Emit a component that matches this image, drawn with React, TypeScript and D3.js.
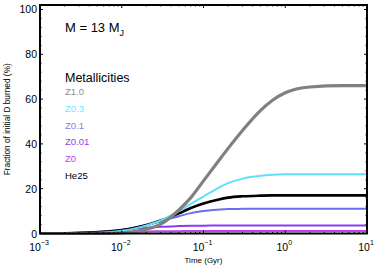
import * as d3 from 'd3';

// sample times (Gyr)
const times = [0.001, 0.002, 0.005, 0.01, 0.015, 0.02, 0.03, 0.05, 0.07, 0.1, 0.15, 0.2, 0.3, 0.5, 0.7, 1, 2, 5, 10];

const z10 = [0, 0, 0, 0.3, 1, 1.9, 4.2, 10.5, 16, 23.5, 32, 38, 46, 55, 59.5, 62.8, 65.4, 66, 66];
const z03 = [0, 0.05, 0.3, 1.2, 2.4, 3.6, 5.8, 10, 13.2, 16.5, 20.3, 22.5, 24.5, 25.8, 26.2, 26.4, 26.5, 26.5, 26.5];
const z01 = [0, 0.15, 0.6, 1.6, 2.8, 3.8, 5.4, 7.7, 9.1, 10, 10.6, 10.9, 11, 11.1, 11.1, 11.1, 11.1, 11.1, 11.1];
const z001 = [0, 0.2, 0.8, 1.6, 2.2, 2.6, 3, 3.3, 3.45, 3.5, 3.55, 3.6, 3.6, 3.6, 3.6, 3.6, 3.6, 3.6, 3.6];
const z0 = [0, 0.15, 0.4, 0.7, 0.8, 0.9, 1, 1.05, 1.1, 1.1, 1.1, 1.1, 1.1, 1.1, 1.1, 1.1, 1.1, 1.1, 1.1];
const he25 = [0, 0.1, 0.5, 1.5, 2.7, 3.8, 5.8, 9, 11.4, 13.4, 15.1, 16, 16.6, 16.9, 17, 17, 17, 17, 17];

const legendLabels = ['Z1.0', 'Z0.3', 'Z0.1', 'Z0.01', 'Z0', 'He25'];
const yTicks = [0, 20, 40, 60, 80, 100];
const xDecades = [-3, -2, -1, 0, 1];

const series = [
  { name: 'Z0', values: z0, color: '#c040f2', width: 2 },
  { name: 'Z0.01', values: z001, color: '#8a3cf0', width: 2 },
  { name: 'Z0.1', values: z01, color: '#6c6cf0', width: 2 },
  { name: 'He25', values: he25, color: '#000000', width: 2.6 },
  { name: 'Z0.3', values: z03, color: '#5ee0f8', width: 2 },
  { name: 'Z1.0', values: z10, color: '#808080', width: 3.2 },
];
const legendColors: Record<string, string> = {
  'Z1.0': '#8c8c8c',
  'Z0.3': '#6ee6ff',
  'Z0.1': '#7e7ef0',
  'Z0.01': '#9040e6',
  'Z0': '#c040f0',
  'He25': '#000000',
};

const W = 380;
const H = 266;
const left = 40;
const right = 367;
const top = 5;
const bottom = 233.5;
const font = 'Liberation Sans, Arial, sans-serif';

export default function App() {
  const x = d3.scaleLog().domain([1e-3, 10]).range([left, right]);
  const y = d3.scaleLinear().domain([0, 102]).range([bottom, top]);

  const line = d3
    .line<number>()
    .x((_, i) => x(times[i]))
    .y((d) => y(d))
    .curve(d3.curveMonotoneX);

  const minorX: number[] = [];
  for (let e = -3; e < 1; e++) {
    for (let m = 2; m <= 9; m++) minorX.push(m * Math.pow(10, e));
  }
  const minorY = d3.range(0, 101, 4).filter((v) => v % 20 !== 0);

  return (
    <svg width={W} height={H} style={{ position: 'absolute', left: 0, top: 0, background: '#fff' }} fontFamily={font}>
      <g>
        {series.map((s) => (
          <path key={s.name} d={line(s.values) || ''} fill="none" stroke={s.color} strokeWidth={s.width} />
        ))}
      </g>

      {/* ticks */}
      <g stroke="#000" strokeWidth={1}>
        {yTicks.map((v) => (
          <g key={'yt' + v}>
            <line x1={left} x2={left + 3} y1={y(v)} y2={y(v)} />
            <line x1={right} x2={right - 3} y1={y(v)} y2={y(v)} />
          </g>
        ))}
        {minorY.map((v) => (
          <g key={'ym' + v}>
            <line x1={left} x2={left + 1.5} y1={y(v)} y2={y(v)} />
            <line x1={right} x2={right - 1.5} y1={y(v)} y2={y(v)} />
          </g>
        ))}
        {xDecades.map((e) => (
          <g key={'xt' + e}>
            <line x1={x(Math.pow(10, e))} x2={x(Math.pow(10, e))} y1={bottom} y2={bottom - 3} />
            <line x1={x(Math.pow(10, e))} x2={x(Math.pow(10, e))} y1={top} y2={top + 3} />
          </g>
        ))}
        {minorX.map((v, i) => (
          <g key={'xm' + i}>
            <line x1={x(v)} x2={x(v)} y1={bottom} y2={bottom - 1.5} />
            <line x1={x(v)} x2={x(v)} y1={top} y2={top + 1.5} />
          </g>
        ))}
      </g>

      <rect x={left} y={top} width={right - left} height={bottom - top} fill="none" stroke="#000" strokeWidth={2} />

      {/* tick labels */}
      {yTicks.map((v) => (
        <text key={'yl' + v} x={left - 3} y={y(v) + 4} fontSize={10.5} textAnchor="end">
          {v}
        </text>
      ))}
      {xDecades.map((e) => (
        <text key={'xl' + e} x={x(Math.pow(10, e)) - 1} y={251} fontSize={10.5} textAnchor="middle">
          10
          <tspan dy={-6} fontSize={7}>
            {e < 0 ? '\u2212' + -e : String(e)}
          </tspan>
        </text>
      ))}

      <text x={(left + right) / 2} y={263} fontSize={8} textAnchor="middle">
        Time (Gyr)
      </text>
      <text transform={`translate(10,${(top + bottom) / 2}) rotate(-90)`} fontSize={8.3} textAnchor="middle">
        Fraction of initial D burned (%)
      </text>

      {/* annotations */}
      <text x={65} y={32} fontSize={13}>
        M = 13 M
        <tspan dy={4} fontSize={9}>
          J
        </tspan>
      </text>
      <text x={65} y={82} fontSize={12.5}>
        Metallicities
      </text>
      {legendLabels.map((l, i) => (
        <text key={l} x={65} y={95 + i * 16.8} fontSize={9.5} fill={legendColors[l]}>
          {l}
        </text>
      ))}
    </svg>
  );
}
